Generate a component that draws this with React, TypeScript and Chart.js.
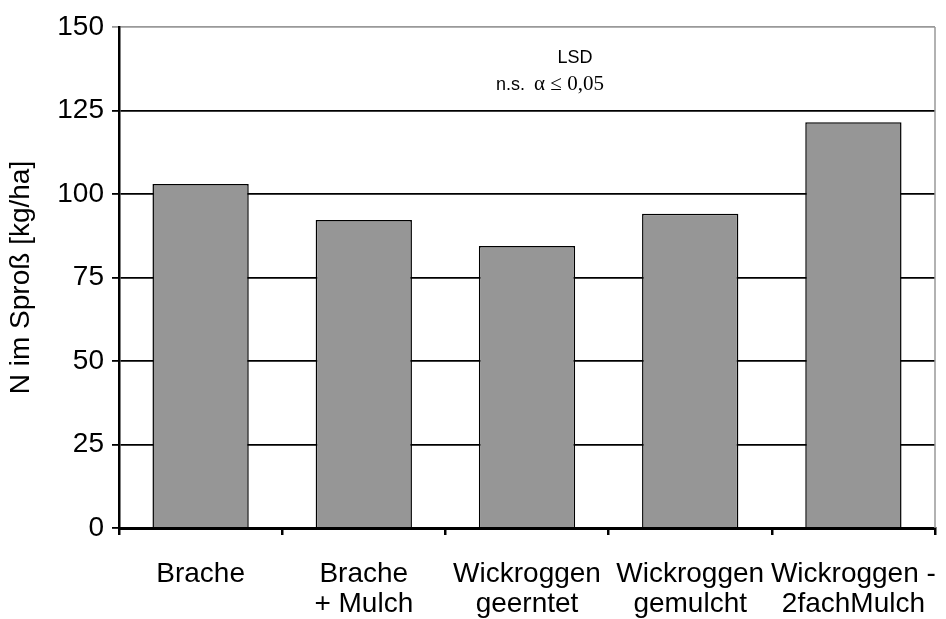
import React, { useEffect, useRef } from "react";
import { Chart, registerables } from "chart.js";

Chart.register(...registerables);

const categories: string[][] = [
  ["Brache"],
  ["Brache", "+ Mulch"],
  ["Wickroggen", "geerntet"],
  ["Wickroggen", "gemulcht"],
  ["Wickroggen -", "2fachMulch"],
];
const values: number[] = [103, 92.2, 84.4, 94.1, 121.5];
const yTitle = "N im Sproß [kg/ha]";
const yMin = 0;
const yMax = 150;
const yStep = 25;
const noteLine1 = "LSD";
const noteLine2a = "n.s.";
const noteLine2b = "α ≤ 0,05";

const FONT = "'Liberation Sans', Arial, sans-serif";
const SERIF = "'Liberation Serif', 'Times New Roman', serif";

const annotationPlugin = {
  id: "annot",
  afterDraw(chart: any) {
    const { ctx, chartArea } = chart;
    ctx.save();
    ctx.strokeStyle = "#999999";
    ctx.lineWidth = 1.5;
    ctx.beginPath();
    ctx.moveTo(chartArea.right, chartArea.top);
    ctx.lineTo(chartArea.right, chartArea.bottom);
    ctx.stroke();
    ctx.fillStyle = "#000";
    ctx.textBaseline = "alphabetic";
    ctx.textAlign = "center";
    ctx.font = `18px ${FONT}`;
    ctx.fillText(noteLine1, 575, 63);
    ctx.textAlign = "left";
    const gap = 9;
    ctx.font = `18px ${FONT}`;
    const w1 = ctx.measureText(noteLine2a).width;
    ctx.font = `21px ${SERIF}`;
    const w2 = ctx.measureText(noteLine2b).width;
    const startX = 550 - (w1 + gap + w2) / 2;
    ctx.font = `18px ${FONT}`;
    ctx.fillText(noteLine2a, startX, 90);
    ctx.font = `21px ${SERIF}`;
    ctx.fillText(noteLine2b, startX + w1 + gap, 90);
    ctx.restore();
  },
};

export default function App() {
  const ref = useRef<HTMLCanvasElement>(null);
  useEffect(() => {
    if (!ref.current) return;
    const chart = new Chart(ref.current, {
      type: "bar",
      data: {
        labels: categories,
        datasets: [
          {
            data: values,
            backgroundColor: "#969696",
            borderColor: "#000",
            borderWidth: 1.5,
            barPercentage: 0.59,
            categoryPercentage: 1,
          },
        ],
      },
      options: {
        responsive: false,
        animation: false,
        layout: { padding: { top: 27, right: 11, left: 0, bottom: 0 } },
        plugins: { legend: { display: false }, tooltip: { enabled: false } },
        scales: {
          x: {
            grid: {
              offset: true,
              drawOnChartArea: false,
              drawTicks: true,
              tickLength: 7,
              color: "#000",
              lineWidth: 2.5,
            },
            border: { display: true, color: "#000", width: 3 },
            ticks: {
              color: "#000",
              font: { family: FONT, size: 28, lineHeight: 1.08 },
              padding: 24,
              maxRotation: 0,
              autoSkip: false,
            },
            afterFit(scale: any) {
              scale.height = 91;
              scale.paddingLeft = 0;
              scale.paddingRight = 0;
            },
          },
          y: {
            min: yMin,
            max: yMax,
            ticks: {
              stepSize: yStep,
              color: "#000",
              font: { family: FONT, size: 28 },
              padding: 8,
            },
            grid: {
              color: (c: any) => (c.tick && c.tick.value === yMax ? "#999999" : "#000"),
              lineWidth: 1.8,
              tickLength: 7,
              drawTicks: true,
            },
            border: { display: true, color: "#000", width: 2.5 },
            title: {
              display: true,
              text: yTitle,
              color: "#000",
              font: { family: FONT, size: 28 },
              padding: { top: 4, bottom: 0 },
            },
            afterFit(scale: any) {
              scale.width = 119;
              scale.paddingTop = 0;
              scale.paddingBottom = 0;
            },
          },
        },
      },
      plugins: [annotationPlugin],
    });
    return () => chart.destroy();
  }, []);
  return (
    <div style={{ position: "fixed", left: 0, top: 0, width: 946, height: 619, background: "#fff" }}>
      <canvas ref={ref} width={946} height={619} style={{ width: 946, height: 619 }} />
    </div>
  );
}
